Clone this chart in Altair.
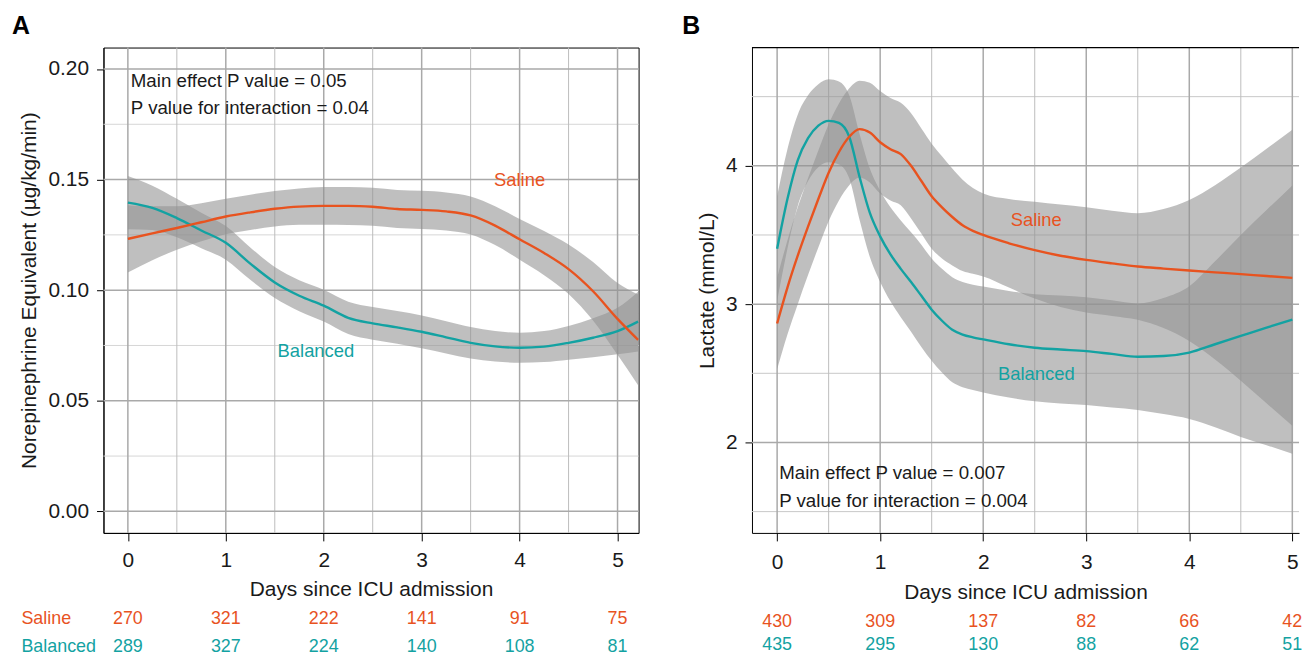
import altair as alt
import pandas as pd

FONT = "Liberation Sans"
SALINE_COLOR = "#E8531F"
BALANCED_COLOR = "#13A2A2"
BAND_COLOR = "#939393"
TEXT_COLOR = "#1a1a1a"
GRID_MAJOR = "#a9a9a9"
GRID_MINOR = "#bcbcbc"

# ---------------- Panel A : Norepinephrine equivalent ----------------
a_days = [0, 0.25, 0.5, 0.75, 1, 1.25, 1.5, 1.75, 2, 2.25, 2.5, 2.75, 3,
          3.25, 3.5, 3.75, 4, 4.25, 4.5, 4.75, 5, 5.21]
a_saline = [0.1232, 0.1257, 0.1281, 0.1307, 0.1333, 0.1352, 0.1368, 0.1378,
            0.1381, 0.1381, 0.1377, 0.1367, 0.1363, 0.1356, 0.1338, 0.1292,
            0.1230, 0.1168, 0.1095, 0.0995, 0.0870, 0.0775]
a_saline_lo = [0.1080, 0.1135, 0.1183, 0.1221, 0.1253, 0.1272, 0.1288, 0.1296,
               0.1296, 0.1295, 0.1291, 0.1281, 0.1277, 0.1270, 0.1252, 0.1204,
               0.1138, 0.1068, 0.0983, 0.0863, 0.0708, 0.0570]
a_saline_hi = [0.1384, 0.1379, 0.1379, 0.1393, 0.1413, 0.1432, 0.1448, 0.1460,
               0.1466, 0.1467, 0.1463, 0.1453, 0.1449, 0.1442, 0.1424, 0.1380,
               0.1322, 0.1268, 0.1207, 0.1127, 0.1032, 0.0980]
a_balanced = [0.1396, 0.1372, 0.1326, 0.1270, 0.1214, 0.1120, 0.1035, 0.0975,
              0.0930, 0.0875, 0.0850, 0.0832, 0.0812, 0.0787, 0.0762, 0.0746,
              0.0740, 0.0745, 0.0762, 0.0785, 0.0815, 0.0858]
a_balanced_lo = [0.1276, 0.1272, 0.1239, 0.1190, 0.1138, 0.1047, 0.0965, 0.0905,
                 0.0858, 0.0802, 0.0776, 0.0758, 0.0738, 0.0714, 0.0691, 0.0677,
                 0.0672, 0.0675, 0.0686, 0.0697, 0.0710, 0.0723]
a_balanced_hi = [0.1516, 0.1472, 0.1413, 0.1350, 0.1290, 0.1193, 0.1105, 0.1045,
                 0.1002, 0.0948, 0.0924, 0.0906, 0.0886, 0.0860, 0.0833, 0.0815,
                 0.0808, 0.0815, 0.0838, 0.0873, 0.0920, 0.0993]
a_count_days = [0, 1, 2, 3, 4, 5]
a_saline_n = [270, 321, 222, 141, 91, 75]
a_balanced_n = [289, 327, 224, 140, 108, 81]
a_y_ticks = [0.0, 0.05, 0.10, 0.15, 0.20]
a_y_minor = [0.025, 0.075, 0.125, 0.175]

# ---------------- Panel B : Lactate ----------------
b_days = [0, 0.1, 0.2, 0.3, 0.4, 0.5, 0.6, 0.7, 0.8, 0.9, 1.0, 1.1, 1.2, 1.3,
          1.4, 1.5, 1.6, 1.7, 1.8, 1.9, 2.0, 2.25, 2.5, 2.75, 3.0, 3.25, 3.5,
          3.75, 4.0, 4.25, 4.5, 4.75, 5.0]
b_saline = [2.86, 3.12, 3.35, 3.56, 3.76, 3.95, 4.10, 4.21, 4.265, 4.24, 4.17,
            4.12, 4.085, 4.00, 3.89, 3.78, 3.70, 3.63, 3.57, 3.53, 3.50, 3.44,
            3.39, 3.35, 3.32, 3.295, 3.272, 3.257, 3.243, 3.23, 3.217, 3.203, 3.19]
b_saline_lo = [2.53, 2.78, 3.00, 3.21, 3.41, 3.60, 3.75, 3.86, 3.915, 3.88, 3.80,
               3.75, 3.715, 3.62, 3.51, 3.40, 3.33, 3.28, 3.24, 3.22, 3.20, 3.12,
               3.04, 2.98, 2.94, 2.915, 2.887, 2.827, 2.733, 2.60, 2.447, 2.283, 2.12]
b_saline_hi = [3.19, 3.46, 3.70, 3.91, 4.11, 4.30, 4.45, 4.56, 4.615, 4.60, 4.54,
               4.49, 4.455, 4.38, 4.27, 4.16, 4.07, 3.98, 3.90, 3.84, 3.80, 3.76,
               3.74, 3.72, 3.70, 3.675, 3.657, 3.687, 3.753, 3.86, 3.987, 4.123, 4.26]
b_balanced = [3.40, 3.76, 4.04, 4.20, 4.29, 4.325, 4.31, 4.21, 3.92, 3.66, 3.49,
              3.36, 3.255, 3.16, 3.06, 2.96, 2.88, 2.815, 2.78, 2.76, 2.745, 2.71,
              2.685, 2.672, 2.66, 2.64, 2.62, 2.625, 2.65, 2.71, 2.77, 2.83, 2.888]
b_balanced_lo = [3.02, 3.40, 3.71, 3.89, 3.99, 4.025, 4.01, 3.91, 3.61, 3.34, 3.16,
                 3.02, 2.905, 2.80, 2.69, 2.59, 2.505, 2.435, 2.40, 2.38, 2.362, 2.325,
                 2.298, 2.282, 2.27, 2.252, 2.235, 2.205, 2.17, 2.11, 2.04, 1.98, 1.918]
b_balanced_hi = [3.78, 4.12, 4.37, 4.51, 4.59, 4.625, 4.61, 4.51, 4.23, 3.98, 3.82,
                 3.70, 3.605, 3.52, 3.43, 3.33, 3.255, 3.195, 3.16, 3.14, 3.128, 3.095,
                 3.072, 3.062, 3.05, 3.028, 3.005, 3.045, 3.13, 3.31, 3.50, 3.68, 3.858]
b_count_days = [0, 1, 2, 3, 4, 5]
b_saline_n = [430, 309, 137, 82, 66, 42]
b_balanced_n = [435, 295, 130, 88, 62, 51]
b_y_ticks = [2, 3, 4]
b_y_minor = [1.5, 2.5, 3.5, 4.5]

x_major = [0, 1, 2, 3, 4, 5]
x_minor = [0.5, 1.5, 2.5, 3.5, 4.5]


def panel(letter, days, sal, sal_lo, sal_hi, bal, bal_lo, bal_hi,
          count_days, sal_n, bal_n, y_ticks, y_minor, y_fmt, y_title,
          xdom, ydom, W, H, minor_h_color, title_x, x_title_y, x_lab_pad,
          ann, ann_x, ann_y, sal_lab, bal_lab, count_y, letter_dx,
          row_labels, row_label_x, top_rule):
    xs = alt.Scale(domain=xdom, nice=False, zero=False)
    ys = alt.Scale(domain=ydom, nice=False, zero=False)

    x_axis = alt.Axis(values=x_major, format="d", title="Days since ICU admission",
                      grid=False, tickSize=8, labelPadding=x_lab_pad,
                      titleY=x_title_y, titleBaseline="middle")
    y_axis = alt.Axis(values=y_ticks, format=y_fmt, title=y_title, grid=False,
                      tickSize=7, labelPadding=8, titleX=title_x, titleY=H / 2,
                      titleBaseline="middle", titleAlign="center")

    def X(f):
        return alt.X(f, type="quantitative", scale=xs, axis=x_axis)

    def Y(f):
        return alt.Y(f, type="quantitative", scale=ys, axis=y_axis)

    df = pd.DataFrame({"day": days, "sal": sal, "sal_lo": sal_lo, "sal_hi": sal_hi,
                       "bal": bal, "bal_lo": bal_lo, "bal_hi": bal_hi})

    # grid lines
    layers = [
        alt.Chart(pd.DataFrame({"v": y_minor})).mark_rule(
            color=minor_h_color, strokeWidth=1).encode(
            y=Y("v"), x=alt.value(0), x2=alt.value(W)),
        alt.Chart(pd.DataFrame({"v": x_minor})).mark_rule(
            color=GRID_MINOR, strokeWidth=1).encode(
            x=X("v"), y=alt.value(0), y2=alt.value(H)),
        alt.Chart(pd.DataFrame({"v": y_ticks})).mark_rule(
            color=GRID_MAJOR, strokeWidth=1.5).encode(
            y=Y("v"), x=alt.value(0), x2=alt.value(W)),
        alt.Chart(pd.DataFrame({"v": x_major})).mark_rule(
            color=GRID_MAJOR, strokeWidth=1.5).encode(
            x=X("v"), y=alt.value(0), y2=alt.value(H)),
    ]

    # confidence bands
    layers.append(alt.Chart(df).mark_area(
        color=BAND_COLOR, opacity=0.59, interpolate="monotone").encode(
        x=X("day"), y=Y("bal_lo"), y2="bal_hi"))
    layers.append(alt.Chart(df).mark_area(
        color=BAND_COLOR, opacity=0.59, interpolate="monotone").encode(
        x=X("day"), y=Y("sal_lo"), y2="sal_hi"))

    # lines
    layers.append(alt.Chart(df).mark_line(
        color=BALANCED_COLOR, strokeWidth=2.4, interpolate="monotone").encode(
        x=X("day"), y=Y("bal")))
    layers.append(alt.Chart(df).mark_line(
        color=SALINE_COLOR, strokeWidth=2.4, interpolate="monotone").encode(
        x=X("day"), y=Y("sal")))

    # series labels
    lab_df = pd.DataFrame({"x": [sal_lab[0], bal_lab[0]], "y": [sal_lab[1], bal_lab[1]],
                           "t": ["Saline", "Balanced"]})
    layers.append(alt.Chart(lab_df).mark_text(fontSize=18.5, font=FONT).encode(
        x=X("x"), y=Y("y"), text="t:N",
        color=alt.Color("t:N", scale=alt.Scale(domain=["Saline", "Balanced"],
                                               range=[SALINE_COLOR, BALANCED_COLOR]),
                        legend=None)))

    # p-value annotations
    ann_df = pd.DataFrame({"x": [ann_x, ann_x], "y": ann_y, "t": ann})
    layers.append(alt.Chart(ann_df).mark_text(
        fontSize=18.8, font=FONT, align="left", color=TEXT_COLOR).encode(
        x=X("x"), y=Y("y"), text="t:N"))

    # numbers at risk
    layers.append(alt.Chart(pd.DataFrame({"d": count_days, "n": sal_n})).mark_text(
        fontSize=18, font=FONT, color=SALINE_COLOR).encode(
        x=X("d"), y=alt.value(count_y[0]), text="n:N"))
    layers.append(alt.Chart(pd.DataFrame({"d": count_days, "n": bal_n})).mark_text(
        fontSize=18, font=FONT, color=BALANCED_COLOR).encode(
        x=X("d"), y=alt.value(count_y[1]), text="n:N"))
    if row_labels:
        layers.append(alt.Chart(pd.DataFrame({"d": [row_label_x], "t": ["Saline"]})).mark_text(
            fontSize=18, font=FONT, color=SALINE_COLOR, align="left").encode(
            x=X("d"), y=alt.value(count_y[0]), text="t:N"))
        layers.append(alt.Chart(pd.DataFrame({"d": [row_label_x], "t": ["Balanced"]})).mark_text(
            fontSize=18, font=FONT, color=BALANCED_COLOR, align="left").encode(
            x=X("d"), y=alt.value(count_y[1]), text="t:N"))
    if top_rule:
        layers.append(alt.Chart(pd.DataFrame({"d": [0]})).mark_rule(
            color="black", strokeWidth=1.2).encode(
            x=alt.value(0), x2=alt.value(W), y=alt.value(0)))

    ch = alt.layer(*layers).properties(
        width=W, height=H,
        title=alt.TitleParams(text=letter, anchor="start", frame="group",
                              fontSize=25, fontWeight="bold", font=FONT,
                              color="black", dx=letter_dx, dy=26, offset=14,
                              baseline="alphabetic"))
    return ch


panel_a = panel(
    "A", a_days, a_saline, a_saline_lo, a_saline_hi,
    a_balanced, a_balanced_lo, a_balanced_hi,
    a_count_days, a_saline_n, a_balanced_n, a_y_ticks, a_y_minor, ".2f",
    "Norepinephrine Equivalent (µg/kg/min)",
    [-0.249, 5.215], [-0.00975, 0.2097], 538, 488, "#d6d6d6", -74, 57, 9,
    ["Main effect P value = 0.05", "P value for interaction = 0.04"],
    0.03, [0.1946, 0.1825], (4.0, 0.1498), (1.92, 0.0726), [575, 603], -92,
    True, -1.087, False)

panel_b = panel(
    "B", b_days, b_saline, b_saline_lo, b_saline_hi,
    b_balanced, b_balanced_lo, b_balanced_hi,
    b_count_days, b_saline_n, b_balanced_n, b_y_ticks, b_y_minor, "d",
    "Lactate (mmol/L)",
    [-0.244, 5.065], [1.346, 4.855], 550, 488, "#c8c8c8", -45, 60, 11,
    ["Main effect P value = 0.007", "P value for interaction = 0.004"],
    0.02, [1.777, 1.578], (2.515, 3.607), (2.515, 2.496), [578, 601], -70,
    False, 0, True).properties(view=alt.ViewBackground(stroke="transparent"))

chart = alt.hconcat(panel_a, panel_b, spacing=38).properties(
    padding={"left": 3, "top": 3, "right": 0, "bottom": 0},
    background="white",
).configure_view(stroke="black", strokeWidth=1).configure_axis(
    labelFont=FONT, titleFont=FONT, labelFontSize=21, titleFontSize=21,
    titleFontWeight="normal", labelColor=TEXT_COLOR, titleColor=TEXT_COLOR,
    domainColor="black", tickColor="black", domainWidth=1, tickWidth=1
)

chart.save("out.html", embed_options={"renderer": "svg", "actions": False})
